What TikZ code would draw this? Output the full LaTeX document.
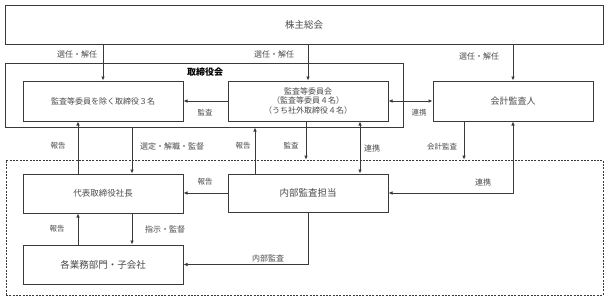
\documentclass[tikz,border=0pt]{standalone}
\usepackage{fontspec}
\setmainfont{Noto Sans CJK JP}
\usetikzlibrary{arrows.meta}
\definecolor{ln}{HTML}{3A3A3A}
\definecolor{tx}{HTML}{4A4A4A}
\tikzset{
  box/.style={draw=ln, line width=1pt, rectangle, inner sep=0pt, text=tx, align=center, font=\fontsize{8.5}{11}\selectfont},
  lbl/.style={text=tx, inner sep=1pt, font=\fontsize{7.5}{8}\selectfont},
  lblb/.style={lbl, font=\fontsize{8}{9}\selectfont},
  arr/.style={draw=ln, line width=0.8pt, -{Latex[length=4pt,width=3.6pt]}},
  darr/.style={draw=ln, line width=0.8pt, {Latex[length=4pt,width=3.6pt]}-{Latex[length=4pt,width=3.6pt]}},
}
\begin{document}
\begin{tikzpicture}[x=1pt,y=-1pt]
\useasboundingbox (0,0) rectangle (608,300);
% frames
\node[box, minimum width=598pt, minimum height=39pt, font=\fontsize{9.5}{11}\selectfont] (soukai) at (304,24.5) {株主総会};
\node[box, minimum width=398pt, minimum height=64pt] (board) at (204,95) {};
\node[text=black, font=\fontsize{9}{10}\selectfont\bfseries] (boardt) at (205,72) {取締役会};
\node[draw=ln, line width=0.8pt, dash pattern=on 2pt off 1.3pt, minimum width=597pt, minimum height=135pt, inner sep=0pt] (dash) at (304.5,227.5) {};
% boxes
\node[box, minimum width=160pt, minimum height=40pt, font=\fontsize{8}{10}\selectfont] (dir3) at (103,101) {監査等委員を除く取締役３名};
\node[box, minimum width=160pt, minimum height=40pt, font=\fontsize{8}{9.5}\selectfont] (kansa) at (308,101) {監査等委員会\\（監査等委員４名）\\（うち社外取締役４名）};
\node[box, minimum width=160pt, minimum height=40pt, font=\fontsize{9}{11}\selectfont] (kaikei) at (513,101) {会計監査人};
\node[box, minimum width=160pt, minimum height=39pt] (ceo) at (103,193.5) {代表取締役社長};
\node[box, minimum width=160pt, minimum height=38pt, font=\fontsize{9.5}{11}\selectfont] (naibu) at (308,193) {内部監査担当};
\node[box, minimum width=160pt, minimum height=39pt, font=\fontsize{9.5}{11}\selectfont] (gyomu) at (103,264.5) {各業務部門・子会社};
% connectors
\draw[arr] (soukai.south -| dir3.north) -- (dir3.north);
\draw[arr] (soukai.south -| kansa.north) -- (kansa.north);
\draw[arr] (soukai.south -| kaikei.north) -- (kaikei.north);
\draw[arr] (kansa.west) -- (dir3.east);
\draw[darr] (kansa.east) -- (kaikei.west);
\draw[arr] ([xshift=-25pt]ceo.north) -- ([xshift=-25pt]ceo.north |- dir3.south);
\draw[arr] ([xshift=29pt]ceo.north |- board.south) -- ([xshift=29pt]ceo.north);
\draw[arr] ([xshift=-53pt]naibu.north) -- ([xshift=-53pt]naibu.north |- board.south);
\draw[arr] ([xshift=-2pt]kansa.south) -- ([xshift=-2pt]kansa.south |- dash.north);
\draw[darr] ([xshift=52pt]kansa.south) -- ([xshift=52pt]naibu.north);
\draw[arr] ([xshift=-49pt]kaikei.south) -- ([xshift=-49pt]kaikei.south |- dash.north);
\draw[darr] (kaikei.south) |- (naibu.east);
\draw[arr] (naibu.west) -- (naibu.west -| ceo.east);
\draw[arr] ([xshift=-25pt]gyomu.north) -- ([xshift=-25pt]gyomu.north |- ceo.south);
\draw[arr] ([xshift=29pt]ceo.south) -- ([xshift=29pt]ceo.south |- gyomu.north);
\draw[arr] (naibu.south) |- (gyomu.east);
% labels
\node[lblb] (l1) at (77,54) {選任・解任};
\node[lblb] (l2) at (274,54) {選任・解任};
\node[lblb] (l3) at (479,56) {選任・解任};
\node[lbl] (l4) at (205,113) {監査};
\node[lbl] (l5) at (419,113) {連携};
\node[lbl] (l6) at (58,146) {報告};
\node[lblb] (l7) at (172,146) {選定・解職・監督};
\node[lbl] (l8) at (243,146) {報告};
\node[lbl] (l9) at (291,146) {監査};
\node[lblb] (l10) at (372,148) {連携};
\node[lbl] (l11) at (442,147) {会計監査};
\node[lbl] (l12) at (205,182) {報告};
\node[lblb] (l13) at (483,182) {連携};
\node[lbl] (l14) at (57,229) {報告};
\node[lblb] (l15) at (165,229) {指示・監督};
\node[lblb] (l16) at (268,258) {内部監査};
\end{tikzpicture}
\end{document}
